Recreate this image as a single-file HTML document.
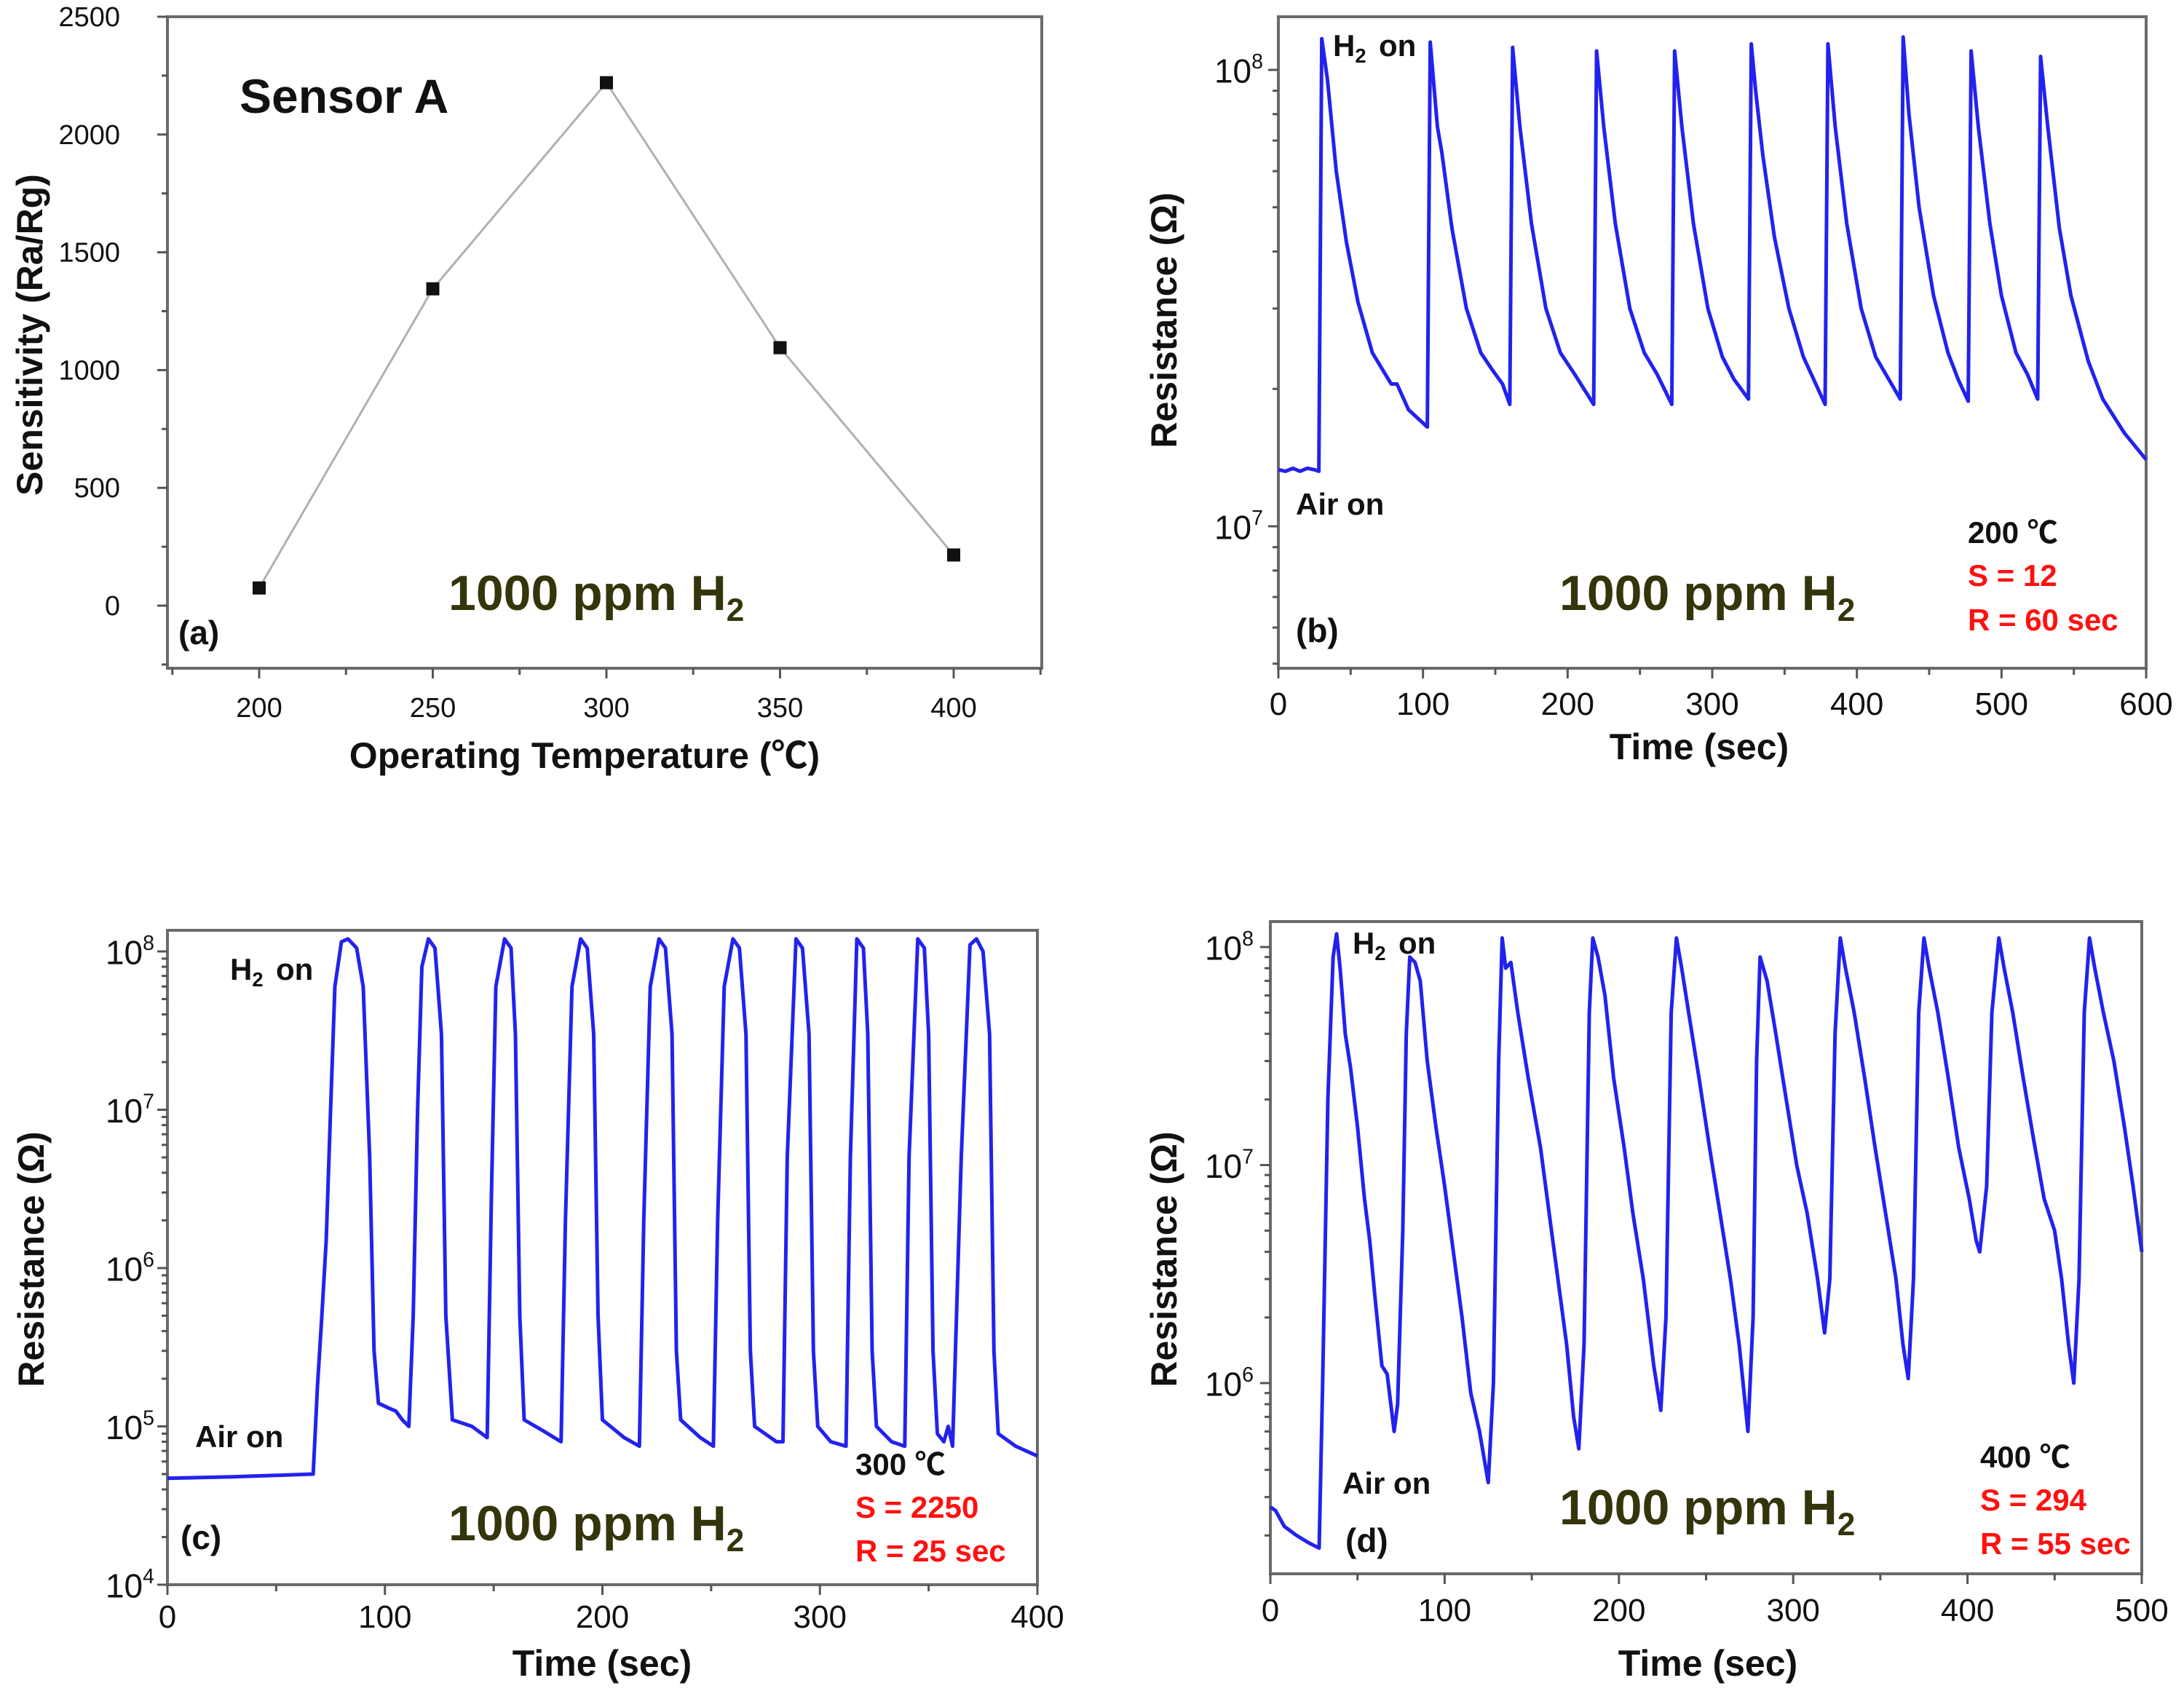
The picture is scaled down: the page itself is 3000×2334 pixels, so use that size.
<!DOCTYPE html>
<html><head><meta charset="utf-8"><style>
html,body{margin:0;padding:0;background:#fff;}
svg{display:block;font-family:"Liberation Sans","Noto Sans CJK SC",sans-serif;}
</style></head><body>
<svg id="fig" width="3000" height="2334" viewBox="0 0 3000 2334" xmlns="http://www.w3.org/2000/svg"></svg>
<script>
// ---- Panel (a) data ----
const tempsA = [200, 250, 300, 350, 400];
const sensA = [75, 1345, 2220, 1095, 215];
const yTicksA = [0, 500, 1000, 1500, 2000, 2500];
const xTicksA = [200, 250, 300, 350, 400];
// ---- Panel (b) data (200 C) ----
const timeB = [0,5,10,15,20,25,28,30,34,40,47,55,65,78,82,90,103,105,110,113,120,130,140,148,155,160,162,167,175,185,195,205,218,220,225,233,243,253,262,272,274,279,287,297,307,315,325,327,330,335,343,353,363,378,380,385,393,403,413,422,430,432,436,443,453,463,470,477,479,484,492,500,510,518,525,527,532,540,548,560,570,585,600];
const resB = [1.33e7,1.32e7,1.34e7,1.32e7,1.34e7,1.33e7,1.32e7,1.17e8,9.5e7,6.0e7,4.2e7,3.1e7,2.4e7,2.05e7,2.05e7,1.8e7,1.65e7,1.15e8,7.5e7,6.6e7,4.5e7,3.0e7,2.4e7,2.2e7,2.05e7,1.85e7,1.12e8,7.5e7,4.6e7,3.0e7,2.4e7,2.15e7,1.85e7,1.1e8,7.5e7,4.6e7,3.0e7,2.4e7,2.15e7,1.85e7,1.1e8,7.5e7,4.6e7,3.0e7,2.35e7,2.1e7,1.9e7,1.14e8,9e7,6.5e7,4.3e7,3.0e7,2.35e7,1.85e7,1.14e8,7.5e7,4.6e7,3.0e7,2.35e7,2.1e7,1.9e7,1.18e8,8e7,5e7,3.2e7,2.4e7,2.1e7,1.88e7,1.1e8,7.5e7,4.6e7,3.2e7,2.4e7,2.15e7,1.9e7,1.07e8,7.5e7,4.5e7,3.2e7,2.3e7,1.9e7,1.6e7,1.4e7];
const xTicksB = [0,100,200,300,400,500,600];
const yDecB = [7, 8];
// ---- Panel (c) data (300 C) ----
const timeC = [0,30,67,69,71,73,75,77,80,83,87,90,93,95,97,102,105,108,111,113,115,117,120,123,126,128,131,140,147,149,151,155,158,160,162,164,172,181,183,186,190,193,196,198,200,210,217,219,222,226,229,232,234,236,245,251,253,256,260,263,266,268,270,280,283,285,289,292,295,297,299,305,312,314,317,320,322,324,326,333,339,341,345,348,350,352,354,357,359,361,365,369,372,375,378,380,382,390,400];
const resC = [4.7e4,4.8e4,5e4,1.8e5,5e5,1.5e6,1e7,6e7,1.15e8,1.2e8,1.05e8,6e7,5e6,3e5,1.4e5,1.3e5,1.25e5,1.1e5,1e5,5e5,1e7,8e7,1.2e8,1.05e8,3e7,5e5,1.1e5,1e5,8.5e4,3e6,6e7,1.2e8,1.05e8,3e7,5e5,1.1e5,9.5e4,8e4,2e6,6e7,1.2e8,1.05e8,3e7,5e5,1.1e5,8.5e4,7.5e4,2e6,6e7,1.2e8,1.05e8,3e7,3e5,1.1e5,8.5e4,7.5e4,2e6,6e7,1.2e8,1.05e8,3e7,3e5,1e5,8e4,8e4,5e6,1.2e8,1.05e8,3e7,3e5,1e5,8e4,7.5e4,5e6,1.2e8,1.05e8,3e7,3e5,1e5,8e4,7.5e4,5e6,1.2e8,1.05e8,3e7,3e5,9e4,8e4,1e5,7.5e4,5e6,1.1e8,1.2e8,1e8,3e7,3e5,9e4,7.5e4,6.5e4];
const xTicksC = [0,100,200,300,400];
const yDecC = [4,5,6,7,8];
// ---- Panel (d) data (400 C) ----
const timeD = [0,3,8,15,22,28,30,33,36,38,40,43,46,50,54,57,60,64,67,70,71,73,76,78,80,83,86,90,95,100,105,110,115,120,125,128,131,133,135,138,142,148,155,160,165,170,174,177,180,183,185,188,192,197,203,208,214,220,224,227,230,233,236,240,246,252,258,264,269,274,277,279,281,285,290,296,302,308,314,318,321,324,327,330,335,341,347,353,359,363,366,369,372,375,378,383,389,395,401,405,407,411,414,418,421,426,432,438,444,450,454,458,461,464,467,470,473,478,484,490,495,500];
const resD = [2.7e5,2.6e5,2.2e5,2e5,1.85e5,1.75e5,1e6,2e7,9e7,1.15e8,8e7,4e7,2.8e7,1.5e7,7e6,4.5e6,2.5e6,1.2e6,1.1e6,7e5,6e5,8e5,5e6,4e7,9e7,8.5e7,7e7,3e7,1.5e7,8e6,4e6,2e6,9e5,6e5,3.5e5,1e6,3e7,1.1e8,8e7,8.5e7,5e7,2.5e7,1.2e7,6e6,3e6,1.5e6,7e5,5e5,1.5e6,5e7,1.1e8,9e7,6e7,2.5e7,1.2e7,6e6,3e6,1.2e6,7.5e5,2e6,5e7,1.1e8,8e7,5e7,2.5e7,1.2e7,6e6,3e6,1.5e6,6e5,2e6,3e7,9e7,7e7,4e7,2e7,1e7,6e6,3e6,1.7e6,3e6,4e7,1.1e8,8e7,5e7,2.5e7,1.2e7,6e6,3e6,1.5e6,1.05e6,3e6,5e7,1.1e8,8e7,5e7,2.5e7,1.2e7,7e6,4.5e6,4e6,8e6,5e7,1.1e8,8e7,5e7,2.5e7,1.3e7,7e6,5e6,3e6,1.5e6,1e6,3e6,5e7,1.1e8,8e7,5e7,3e7,1.5e7,8e6,4e6];
const xTicksD = [0,100,200,300,400,500];
const yDecD = [6,7,8];

const NS = "http://www.w3.org/2000/svg";
const svg = document.getElementById('fig');
function mk(tag, attrs, parent) {
  const e = document.createElementNS(NS, tag);
  for (const k in attrs) e.setAttribute(k, attrs[k]);
  (parent || svg).appendChild(e);
  return e;
}
function txt(s, x, y, size, opts, parent) {
  const o = Object.assign({x:x, y:y, 'font-size':size, fill:'#111'}, opts||{});
  const t = mk('text', o, parent);
  t.textContent = s;
  return t;
}
function frame(g, L, T, R, B) {
  const r = mk('rect', {x:L, y:T, width:R-L, height:B-T, fill:'none', stroke:'#6a6a6a', 'stroke-width':4}, g);
  
  
}
function xAxisTicks(g, ticks, minorStep, x0, x1, xs, B) {
  for (let v = x0; v <= x1 + 1e-9; v += minorStep) {
    const major = ticks.some(t => Math.abs(t - v) < 1e-6);
    const tk = mk('line', {x1:xs(v), x2:xs(v), y1:B, y2:B + (major ? 14 : 9), stroke:'#555', 'stroke-width':3}, g);
    
    
  }
}
function logYTicks(g, decs, ys, L, T, B, supFmt, size, lx) {
  for (let d = decs[0] - 1; d <= decs[decs.length-1]; d++) {
    for (let m = 1; m < 10; m++) {
      const y = ys(m * Math.pow(10, d));
      if (y < T - 1 || y > B + 1) continue;
      const tk = mk('line', {x1:L - (m===1 ? 14 : 8), x2:L, y1:y, y2:y, stroke:'#555', 'stroke-width':3}, g);
      
      
    }
  }
  decs.forEach(d => {
    const y = ys(Math.pow(10, d));
    const t = mk('text', {x:lx, y:y + size*0.38, 'font-size':size, fill:'#111', 'text-anchor':'end'}, g);
    
    
    const a = mk('tspan', {}, t); a.textContent = '10';
    const b = mk('tspan', {dy:-size*0.42, 'font-size':size*0.62}, t); b.textContent = String(d);
  });
}
function series(g, times, vals, xs, ys, name) {
  let dstr = '';
  times.forEach((t, i) => { dstr += (i ? 'L' : 'M') + xs(t).toFixed(1) + ' ' + ys(vals[i]).toFixed(1); });
  const p = mk('path', {d:dstr, fill:'none', stroke:'#2222ee', 'stroke-width':5, 'stroke-linejoin':'round'}, g);
  
  
}
function h2label(g, x, y, size, fill, name, pre) {
  const t = mk('text', {x:x, y:y, 'font-size':size, fill:fill, 'font-weight':'bold'}, g);
  
  
  const a = mk('tspan', {}, t); a.textContent = pre + 'H';
  const b = mk('tspan', {dy:size*0.22, 'font-size':size*0.65}, t); b.textContent = '2';
  return t;
}

// ================= Panel (a) =================
(function(){
  const g = mk('g', {});  
  const L=230, R=1431, T=23, B=918;
  const xs = v => 356 + (v - 200) * (1310 - 356) / 200;
  const ys = v => 832 - v * (832 - 23) / 2500;
  frame(g, L, T, R, B);
  xAxisTicks(g, xTicksA, 25, 175, 425, xs, B);
  xTicksA.forEach(v => { const t = txt(String(v), xs(v), 985, 38, {'text-anchor':'middle'}, g);   });
  for (let v = -250; v <= 2500; v += 250) {
    const y = ys(v); if (y > B) continue;
    const tk = mk('line', {x1:L-(v%500===0?14:8), x2:L, y1:y, y2:y, stroke:'#555', 'stroke-width':3}, g);
     
  }
  yTicksA.forEach(v => { const t = txt(String(v), 165, ys(v) + 13, 38, {'text-anchor':'end'}, g);   });
  let d=''; tempsA.forEach((t,i)=>{ d += (i?'L':'M') + xs(t) + ' ' + ys(sensA[i]); });
  const ln = mk('path', {d:d, fill:'none', stroke:'#b0b0b0', 'stroke-width':3}, g);
   
  tempsA.forEach((t,i)=>{ const m = mk('rect', {x:xs(t)-9, y:ys(sensA[i])-9, width:18, height:18, fill:'#111'}, g);   });
  const yt = txt('Sensitivity (Ra/Rg)', 0, 0, 50, {'font-weight':'bold', 'text-anchor':'middle', transform:'translate(58,460) rotate(-90)'}, g);
   
  const xt = txt('Operating Temperature (℃)', 803, 1055, 50, {'font-weight':'bold', 'text-anchor':'middle'}, g);
   
  const sa = txt('Sensor A', 329, 155, 66, {'font-weight':'bold'}, g);
   
  h2label(g, 616, 838, 68, '#35350c', 'concentration-label', '1000 ppm ');
  const pl = txt('(a)', 245, 885, 46, {'font-weight':'bold'}, g);
   
})();

// ================= Panel (b) =================
(function(){
  const g = mk('g', {});  
  const L=1756, R=2948, T=23, B=918;
  const xs = v => L + v * (R - L) / 600;
  const ys = v => 96 + (8 - Math.log10(v)) * 627;
  frame(g, L, T, R, B);
  xAxisTicks(g, xTicksB, 50, 0, 600, xs, B);
  xTicksB.forEach(v => { const t = txt(String(v), xs(v), 982, 44, {'text-anchor':'middle'}, g);   });
  logYTicks(g, yDecB, ys, L, T, B, true, 46, 1735);
  series(g, timeB, resB, xs, ys, 'resistance-200c-line');
  const yt = txt('Resistance (Ω)', 0, 0, 50, {'font-weight':'bold', 'text-anchor':'middle', transform:'translate(1616,440) rotate(-90)'}, g);
   
  const xt = txt('Time (sec)', 2334, 1043, 50, {'font-weight':'bold', 'text-anchor':'middle'}, g);
   
  h2label(g, 1831, 77, 42, '#111', 'h2-on-label', '');
  const on = txt('on', 1894, 77, 42, {'font-weight':'bold'}, g);  
  const air = txt('Air on', 1780, 707, 42, {'font-weight':'bold'}, g);  
  const pl = txt('(b)', 1780, 882, 46, {'font-weight':'bold'}, g);  
  h2label(g, 2142, 838, 68, '#35350c', 'concentration-label', '1000 ppm ');
  const t1 = txt('200 ℃', 2703, 746, 42, {'font-weight':'bold'}, g);  
  const t2 = txt('S = 12', 2703, 805, 42, {'font-weight':'bold', fill:'#ff1010'}, g);  
  const t3 = txt('R = 60 sec', 2703, 866, 42, {'font-weight':'bold', fill:'#ff1010'}, g);  
})();

// ================= Panel (c) =================
(function(){
  const g = mk('g', {});  
  const L=230, R=1425, T=1278, B=2177;
  const xs = v => L + v * (R - L) / 400;
  const ys = v => 1307 + (8 - Math.log10(v)) * 217.5;
  frame(g, L, T, R, B);
  xAxisTicks(g, xTicksC, 50, 0, 400, xs, B);
  xTicksC.forEach(v => { const t = txt(String(v), xs(v), 2236, 44, {'text-anchor':'middle'}, g);   });
  logYTicks(g, yDecC, ys, L, T, B, true, 46, 212);
  series(g, timeC, resC, xs, ys, 'resistance-300c-line');
  const yt = txt('Resistance (Ω)', 0, 0, 50, {'font-weight':'bold', 'text-anchor':'middle', transform:'translate(60,1730) rotate(-90)'}, g);
   
  const xt = txt('Time (sec)', 827, 2302, 50, {'font-weight':'bold', 'text-anchor':'middle'}, g);
   
  h2label(g, 316, 1346, 42, '#111', 'h2-on-label', '');
  const on = txt('on', 379, 1346, 42, {'font-weight':'bold'}, g);  
  const air = txt('Air on', 268, 1988, 42, {'font-weight':'bold'}, g);  
  const pl = txt('(c)', 248, 2128, 46, {'font-weight':'bold'}, g);  
  h2label(g, 616, 2116, 68, '#35350c', 'concentration-label', '1000 ppm ');
  const t1 = txt('300 ℃', 1175, 2026, 42, {'font-weight':'bold'}, g);  
  const t2 = txt('S = 2250', 1175, 2085, 42, {'font-weight':'bold', fill:'#ff1010'}, g);  
  const t3 = txt('R = 25 sec', 1175, 2145, 42, {'font-weight':'bold', fill:'#ff1010'}, g);  
})();

// ================= Panel (d) =================
(function(){
  const g = mk('g', {});  
  const L=1745, R=2942, T=1266, B=2162;
  const xs = v => L + v * (R - L) / 500;
  const ys = v => 1301 + (8 - Math.log10(v)) * 299.5;
  frame(g, L, T, R, B);
  xAxisTicks(g, xTicksD, 50, 0, 500, xs, B);
  xTicksD.forEach(v => { const t = txt(String(v), xs(v), 2227, 44, {'text-anchor':'middle'}, g);   });
  logYTicks(g, yDecD, ys, L, T, B, true, 46, 1722);
  series(g, timeD, resD, xs, ys, 'resistance-400c-line');
  const yt = txt('Resistance (Ω)', 0, 0, 50, {'font-weight':'bold', 'text-anchor':'middle', transform:'translate(1616,1730) rotate(-90)'}, g);
   
  const xt = txt('Time (sec)', 2346, 2302, 50, {'font-weight':'bold', 'text-anchor':'middle'}, g);
   
  h2label(g, 1858, 1310, 42, '#111', 'h2-on-label', '');
  const on = txt('on', 1921, 1310, 42, {'font-weight':'bold'}, g);  
  const air = txt('Air on', 1844, 2052, 42, {'font-weight':'bold'}, g);  
  const pl = txt('(d)', 1848, 2132, 46, {'font-weight':'bold'}, g);  
  h2label(g, 2142, 2094, 68, '#35350c', 'concentration-label', '1000 ppm ');
  const t1 = txt('400 ℃', 2720, 2016, 42, {'font-weight':'bold'}, g);  
  const t2 = txt('S = 294', 2720, 2075, 42, {'font-weight':'bold', fill:'#ff1010'}, g);  
  const t3 = txt('R = 55 sec', 2720, 2135, 42, {'font-weight':'bold', fill:'#ff1010'}, g);  
})();
</script>
</body></html>
